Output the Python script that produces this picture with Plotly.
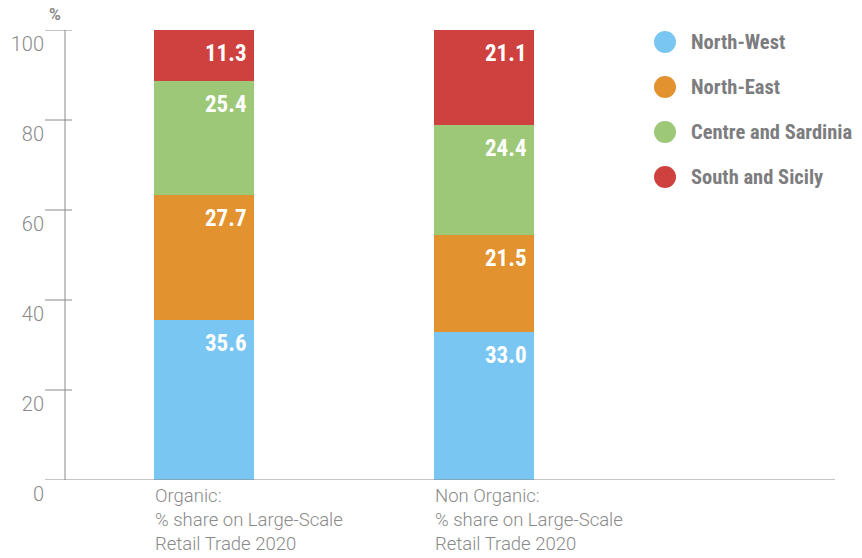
import plotly.graph_objects as go

# Dati
categories = ["Organic:<br>% share on Large-Scale<br>Retail Trade 2020",
              "Non Organic:<br>% share on Large-Scale<br>Retail Trade 2020"]
regions = ["North-West", "North-East", "Centre and Sardinia", "South and Sicily"]
north_west = [35.6, 33.0]
north_east = [27.7, 21.5]
centre_sardinia = [25.4, 24.4]
south_sicily = [11.3, 21.1]
y_ticks = [0, 20, 40, 60, 80, 100]

series = [north_west, north_east, centre_sardinia, south_sicily]
colors = ["#7AC6F2", "#E2922F", "#9CC877", "#CF413E"]

FONT = "Liberation Sans Narrow, Roboto Condensed, Arial Narrow, Roboto, sans-serif"
GREY = "#8a8a8a"
BAR_W = 100 / 280

x_pos = list(range(len(categories)))

fig = go.Figure()
for name, vals, col in zip(regions, series, colors):
    fig.add_trace(go.Bar(
        x=x_pos, y=vals, name=name, width=BAR_W,
        marker=dict(color=col, line=dict(width=0)),
        showlegend=False, hoverinfo="y+name"
    ))

# Etichette valori (allineate a destra, in alto nel segmento)
for i in x_pos:
    base = 0
    for vals in series:
        top = base + vals[i]
        fig.add_annotation(
            x=i + BAR_W / 2, y=top, xref="x", yref="y",
            text=f"<b>{vals[i]:.1f}</b>", showarrow=False,
            xanchor="right", yanchor="top", xshift=-5, yshift=-8,
            font=dict(family=FONT, size=23, color="white")
        )
        base = top

# Etichette categorie
for i, cat in zip(x_pos, categories):
    fig.add_annotation(
        x=i - BAR_W / 2, y=0, xref="x", yref="y",
        text=cat, showarrow=False, align="left",
        xanchor="left", yanchor="top", yshift=-3, xshift=-1,
        font=dict(family="Roboto, sans-serif", size=18.5, color=GREY, weight=300)
    )

# Assi disegnati a mano
fig.add_shape(type="line", xref="paper", yref="y", x0=0, x1=0, y0=0, y1=100,
              line=dict(color=GREY, width=1))
fig.add_shape(type="line", xref="paper", yref="y", x0=-20 / 770, x1=1, y0=0, y1=0,
              line=dict(color=GREY, width=1))
for t in y_ticks[1:]:
    fig.add_shape(type="line", xref="paper", yref="y", x0=-20 / 770, x1=7 / 770,
                  y0=t, y1=t, line=dict(color=GREY, width=1))

fig.add_annotation(x=-10 / 770, y=1, xref="paper", yref="paper", text="<b>%</b>",
                   showarrow=False, xanchor="center", yanchor="middle", yshift=16,
                   font=dict(family="Roboto, sans-serif", size=16, color=GREY))

# Legenda
for k, (name, col) in enumerate(zip(regions, colors)):
    yc = (480 - (42 + 45 * k)) / 450
    fig.add_shape(type="circle", xref="paper", yref="paper",
                  x0=(654 - 65) / 770, x1=(676 - 65) / 770,
                  y0=yc - 11 / 450, y1=yc + 11 / 450,
                  fillcolor=col, line=dict(width=0))
    fig.add_annotation(x=(689 - 65) / 770, y=yc, xref="paper", yref="paper",
                       text=f"<b>{name}</b>", showarrow=False,
                       xanchor="left", yanchor="middle",
                       font=dict(family=FONT, size=20.5, color="#7d7d80"))

# la pagina ha 8px di margine nel body
fig.update_layout(
    width=854, height=550,
    margin=dict(l=57, r=27, t=22, b=78),
    barmode="stack",
    plot_bgcolor="white", paper_bgcolor="white",
    xaxis=dict(range=[-139 / 280, 1 + 351 / 280], showticklabels=False,
               showgrid=False, zeroline=False, showline=False, automargin=False),
    yaxis=dict(range=[0, 100], tickvals=y_ticks, showgrid=False, zeroline=False,
               showline=False, ticks="", ticklabelposition="outside bottom",
               ticklabelstandoff=20, automargin=False,
               tickfont=dict(family="Roboto, sans-serif", size=20, color=GREY, weight=300)),
)

fig.write_html("out.html")
